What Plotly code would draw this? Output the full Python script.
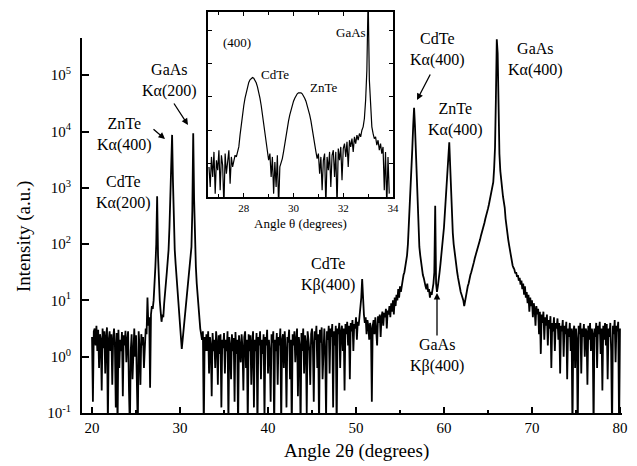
import numpy as np
import plotly.graph_objects as go

# main scan: 2theta from 20 to 80 deg, 0.1 deg step, values are log10(intensity)
scan_start = 20.0
scan_step = 0.1
log_counts = [
    0.35, -0.8, 0.45, 0.5, 0.2, 0.55, 0.1, 0.48, -0.2, 0.4, 0.3, -0.6, 0.5, 0.15, 0.45, -0.3, 0.35, 0.52, -1.2, 0.3,  # 20
    0.45, 0.1, 0.4, -0.5, 0.3, 0.5, 0.2, -0.9, 0.42, -1.3, 0.48, -0.2, 0.3, 0.1, 0.44, -0.7, 0.38, 0.2, 0.46, -0.1,  # 22
    0.3, 0.45, -0.6, -1.3, 0.1, 0.4, -0.4, 0.28, 0.5, 0.0, 0.38, -0.5, -1.3, 0.45, 0.15, -0.5, 0.4, 0.2, 0.35, -0.2,  # 24
    0.3, 0.5, 0.4, 1.05, 0.55, 0.7, -0.55, 0.75, 0.9, 0.85, 1.0, 1.25, 1.6, 2.0, 2.85, 1.8, 1.3, 1.0, 0.8, 0.62,  # 26
    0.75, 0.7, 0.95, 1.1, 1.3, 1.5, 1.7, 1.9, 2.3, 2.8, 3.4, 3.94, 3.1, 2.4, 1.9, 1.65, 1.4, 1.2, 0.95, 0.75,  # 28
    0.5, 0.35, 0.14, 0.3, 0.45, 0.6, 0.75, 0.9, 1.05, 1.2, 1.35, 1.5, 1.7, 1.95, 2.6, 3.97, 2.8, 1.9, 1.6, 1.3,  # 30
    1.05, 0.85, 0.65, 0.5, 0.4, 0.3, 0.45, -1.3, 0.35, 0.1, 0.4, 0.1, 0.45, -0.3, 0.35, 0.2, -0.7, 0.42, 0.1, 0.3,  # 32
    -0.2, 0.45, 0.25, -0.5, 0.38, 0.05, 0.4, -0.9, 0.3, 0.15, 0.42, -0.3, 0.3, 0.1, 0.45, -1.2, 0.35, 0.2, -0.4, 0.4,  # 34
    0.1, 0.33, -0.8, 0.44, 0.05, 0.3, -1.3, 0.38, 0.2, -0.1, 0.4, 0.15, -0.6, 0.35, 0.45, -0.2, 0.3, -1.2, 0.4, 0.1,  # 36
    0.38, -0.5, 0.25, 0.45, -0.9, 0.3, 0.1, 0.42, -1.3, 0.35, 0.2, 0.45, -0.4, 0.3, 0.05, 0.4, -1.1, 0.35, 0.2, 0.48,  # 38
    -0.3, 0.3, 0.1, -0.8, 0.4, 0.25, 0.45, -1.3, 0.3, 0.1, 0.42, -0.5, 0.35, 0.2, 0.5, -1.2, 0.3, 0.4, -0.2, 0.45,  # 40
    0.1, -0.9, 0.35, 0.25, 0.48, -0.4, 0.3, -1.3, 0.4, 0.2, 0.45, -0.1, 0.3, 0.5, -0.7, 0.35, 0.2, -1.3, 0.42, 0.1,  # 42
    0.5, -0.3, 0.38, 0.25, -1.0, 0.45, 0.3, 0.1, -0.5, 0.4, 0.5, 0.2, -0.8, 0.45, 0.3, 0.55, -0.2, 0.4, -1.3, 0.48,  # 44
    0.25, 0.52, -0.4, 0.35, 0.5, 0.1, -1.1, 0.45, 0.3, 0.55, -0.3, 0.5, 0.35, 0.58, -0.9, 0.45, 0.2, 0.55, -1.3, 0.5,  # 46
    0.4, 0.6, -0.2, 0.45, 0.55, 0.1, 0.5, -0.6, 0.58, 0.4, 0.62, 0.2, 0.55, -0.4, 0.6, 0.45, 0.65, 0.1, 0.58, 0.5,  # 48
    0.7, 0.3, 0.62, 0.55, 0.7, 0.8, 1.05, 1.38, 1.0, 0.75, 0.6, 0.7, 0.4, 0.65, 0.55, 0.3, 0.6, 0.5, -0.8, 0.55,  # 50
    0.65, 0.4, 0.7, 0.5, 0.2, 0.72, 0.6, 0.75, 0.35, 0.7, 0.8, 0.55, 0.78, 0.7, 0.85, 0.5, 0.82, 0.75, 0.9, 0.7,  # 52
    0.95, 0.8, 1.0, 0.75, 1.05, 0.9, 1.1, 1.0, 1.2, 1.05, 1.25, 1.15, 1.3, 1.35, 1.45, 1.5, 1.6, 1.7, 1.8, 2.0,  # 54
    2.3, 2.6, 2.95, 3.3, 3.7, 4.1, 4.42, 4.1, 3.6, 3.1, 2.6, 2.2, 1.95, 1.8, 1.65, 1.55, 1.45, 1.4, 1.3, 1.25,  # 56
    1.2, 1.3, 1.15, 1.2, 1.05, 1.15, 1.1, 1.2, 1.3, 1.5, 2.68, 1.3, 1.15, 1.25, 1.35, 1.5, 1.65, 1.8, 1.95, 2.1,  # 58
    2.3, 2.55, 2.8, 3.05, 3.3, 3.5, 3.81, 3.4, 2.9, 2.5, 2.2, 2.0, 1.85, 1.7, 1.6, 1.5, 1.4, 1.3, 1.25, 1.15,  # 60
    1.1, 1.05, 1.0, 0.9, 1.0, 1.1, 1.15, 1.25, 1.3, 1.4, 1.45, 1.5, 1.55, 1.6, 1.68, 1.75, 1.8, 1.85, 1.9, 1.97,  # 62
    2.02, 2.08, 2.15, 2.2, 2.25, 2.32, 2.38, 2.45, 2.5, 2.57, 2.63, 2.7, 2.77, 2.84, 2.9, 2.98, 3.1, 3.35, 3.72, 4.6,  # 64
    5.64, 5.39, 4.2, 3.6, 3.3, 3.1, 2.96, 2.85, 2.75, 2.65, 2.45, 2.3, 2.2, 2.08, 1.98, 1.88, 1.78, 1.7, 1.62, 1.58,  # 66
    1.55, 1.48, 1.5, 1.42, 1.45, 1.35, 1.4, 1.28, 1.35, 1.2, 1.3, 1.1, 1.25, 1.05, 1.15, 0.95, 1.1, 0.8, 1.05, 0.9,  # 68
    1.0, 0.7, 0.95, 0.85, 0.55, 0.9, 0.75, 0.85, 0.4, 0.8, 0.05, 0.75, 0.6, 0.8, 0.3, 0.7, 0.55, 0.75, 0.2, 0.65,  # 70
    0.5, 0.72, -0.2, 0.6, 0.45, 0.7, 0.1, 0.6, 0.5, 0.68, 0.3, 0.6, -0.3, 0.55, 0.45, 0.65, 0.0, 0.55, 0.4, 0.62,  # 72
    -0.4, 0.5, 0.35, 0.6, 0.1, 0.5, -1.3, 0.45, 0.55, -0.2, 0.5, 0.3, -1.3, 0.55, 0.4, 0.6, -0.3, 0.5, 0.35, 0.58,  # 74
    0.0, 0.5, 0.45, -0.5, 0.55, 0.3, 0.6, 0.1, 0.5, 0.4, -1.3, 0.5, 0.35, 0.6, -0.2, 0.55, 0.4, 0.62, 0.05, 0.5,  # 76
    -0.6, 0.55, 0.3, 0.6, 0.2, 0.58, -0.4, 0.5, 0.35, 0.6, 0.1, -1.3, 0.55, 0.4, 0.65, -0.1, 0.55, 0.45, 0.62, -1.3,  # 78
    0.5,
]

# inset: theta scan of the (400) reflections, 0.05 deg step, log10(intensity)
inset_start = 26.6
inset_step = 0.05
inset_log_counts = [
    0.9, 0.3, 1.2, 0.6, 1.35, 0.1, 1.1, 0.8, 1.4, 0.2, 1.25, 0.95, -0.3, 1.3, 0.7, 1.15, 1.4, 0.4, 1.2, 0.9,
    1.1, 1.25, 1.2, 1.35, 1.5, 1.86, 2.19, 2.48, 2.74, 2.96, 3.15, 3.31, 3.43, 3.51, 3.56, 3.58, 3.56, 3.5, 3.42, 3.3,
    3.15, 2.96, 2.74, 2.48, 2.19, 1.86, 1.55, 1.3, 1.1, 1.3, 0.6, 1.2, 0.1, 1.05, 0.3, 1.25, -0.3, 0.9, 1.0, 1.15,
    1.36, 1.62, 1.86, 2.08, 2.28, 2.46, 2.62, 2.75, 2.87, 2.96, 3.04, 3.09, 3.12, 3.13, 3.12, 3.09, 3.04, 2.96, 2.87, 2.75,
    2.62, 2.46, 2.28, 2.08, 1.86, 1.62, 1.36, 1.15, 1.3, 0.7, 1.2, 0.2, 1.1, 1.3, -0.3, 1.2, 0.8, 1.35, 0.3, 1.25,
    1.4, 0.6, 1.35, -0.3, 1.45, 1.1, 1.5, 0.5, 1.45, 1.6, 1.2, 1.65, 0.9, 1.7, 1.5, 1.75, 1.35, 1.8, 1.6, 1.85,
    1.7, 1.9, 1.8, 2.0, 2.1, 2.35, 2.9, 3.8, 6.0, 3.5, 2.6, 2.1, 1.9, 1.75, 1.8, 1.55, 1.7, 1.4, 1.6, 1.3,
    1.5, 0.2, 1.35, -0.3, 1.2, 0.1,
]

x_ticks = [20, 30, 40, 50, 60, 70, 80]
y_ticks = [0.1, 1, 10, 100, 1000, 1e4, 1e5]
y_tick_text = ["10<sup>-1</sup>", "10<sup>0</sup>", "10<sup>1</sup>", "10<sup>2</sup>",
               "10<sup>3</sup>", "10<sup>4</sup>", "10<sup>5</sup>"]
inset_ticks = [28, 30, 32, 34]

two_theta = scan_start + scan_step * np.arange(len(log_counts))
intensity = 10 ** np.array(log_counts)
theta = inset_start + inset_step * np.arange(len(inset_log_counts))
inset_intensity = 10 ** np.array(inset_log_counts)

FONT = "Liberation Serif"

# the page body adds an 8px margin, so the figure is 8px smaller and sits at (8, 8)
# plot area on the page: left 82, top 12, width 540, height 401
def paper(px, py):
    return (px - 82) / 540, (413 - py) / 401


def label(text, px, py, size, angle=0):
    x, y = paper(px, py)
    return dict(text=text, x=x, y=y, xref="paper", yref="paper", showarrow=False,
                textangle=angle, font=dict(size=size), xanchor="center", yanchor="middle")


fig = go.Figure()
fig.add_trace(go.Scatter(x=two_theta, y=intensity, mode="lines",
                         line=dict(color="black", width=1.8), xaxis="x", yaxis="y"))
fig.add_trace(go.Scatter(x=theta, y=inset_intensity, mode="lines",
                         line=dict(color="black", width=1.2), xaxis="x2", yaxis="y2"))

peak_labels = [
    ("CdTe<br>Kα(200)", 123, 192),
    ("ZnTe<br>Kα(400)", 124, 134),
    ("GaAs<br>Kα(200)", 169, 80),
    ("CdTe<br>Kβ(400)", 328, 274),
    ("CdTe<br>Kα(400)", 437, 49),
    ("ZnTe<br>Kα(400)", 455, 119),
    ("GaAs<br>Kα(400)", 535, 59),
    ("GaAs<br>Kβ(400)", 437, 355),
]
annotations = [label(t, px, py, 16) for t, px, py in peak_labels]

# arrows: head position (px) and tail offset
arrows = [(165, 139, -13, -11), (188, 125, -15, -23), (417, 100, 14, -27), (437, 293, 0, 44)]
for hx, hy, ax, ay in arrows:
    x, y = paper(hx, hy)
    annotations.append(dict(text="", x=x, y=y, xref="paper", yref="paper", showarrow=True,
                            ax=ax, ay=ay, arrowhead=2, arrowsize=1, arrowwidth=1.3, arrowcolor="black"))

inset_labels = [("(400)", 237, 42), ("CdTe", 275, 74), ("ZnTe", 323, 88), ("GaAs", 351, 32)]
annotations += [label(t, px, py, 13) for t, px, py in inset_labels]

annotations.append(label("Angle θ (degrees)", 300, 223, 13))
annotations.append(label("Angle 2θ (degrees)", 356, 451, 19))
annotations.append(label("Intensity (a.u.)", 24, 237, 19, angle=-90))

fig.update_layout(
    width=629, height=458,
    margin=dict(l=74, r=15, t=4, b=53, autoexpand=False),
    paper_bgcolor="white", plot_bgcolor="white",
    showlegend=False,
    font=dict(family=FONT, color="black"),
    annotations=annotations,
    xaxis=dict(domain=[0, 1], range=[18.86, 80.23], tickvals=x_ticks, ticks="inside", ticklen=6,
               tickwidth=1.5, tickcolor="black", showline=True, linewidth=2, linecolor="black",
               showgrid=False, zeroline=False, tickfont=dict(size=15), automargin=False,
               minor=dict(ticks="inside", ticklen=3, tick0=20, dtick=5, tickcolor="black", showgrid=False)),
    yaxis=dict(domain=[0, 0.935], type="log", range=[-1, 5.66], tickvals=y_ticks, ticktext=y_tick_text,
               ticks="inside", ticklen=7, tickwidth=1.5, tickcolor="black", showline=True, linewidth=2,
               linecolor="black", showgrid=False, zeroline=False, tickfont=dict(size=15),
               ticklabelstandoff=6, automargin=False),
    xaxis2=dict(domain=[0.2333, 0.5759], anchor="y2", range=[26.56, 34.0], tickvals=inset_ticks,
                ticks="inside", ticklen=4, tickcolor="black", mirror="ticks", showline=True,
                linewidth=1.5, linecolor="black", showgrid=False, zeroline=False,
                tickfont=dict(size=11), automargin=False,
                minor=dict(ticks="inside", ticklen=3, tick0=27, dtick=1, tickcolor="black", showgrid=False)),
    yaxis2=dict(domain=[0.5387, 1.0], anchor="x2", type="log", range=[0, 5.54], dtick=1,
                showticklabels=False, ticks="inside", ticklen=4, tickcolor="black", mirror="ticks",
                showline=True, linewidth=1.5, linecolor="black", showgrid=False, zeroline=False,
                automargin=False),
)

fig.write_html("out.html")
